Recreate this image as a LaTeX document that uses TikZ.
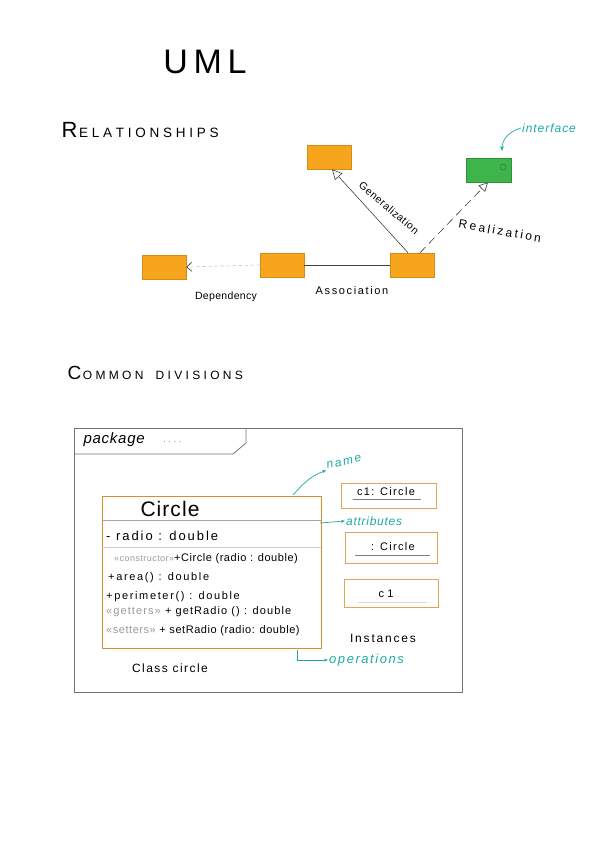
\documentclass[tikz,border=0pt]{standalone}
\usepackage{fontspec}
\setmainfont{Liberation Sans}
\usetikzlibrary{arrows.meta,positioning}
\definecolor{orbox}{HTML}{F7A51C}
\definecolor{orline}{HTML}{D88F2C}
\definecolor{grbox}{HTML}{3DB54A}
\definecolor{teal}{HTML}{1DAAA0}
\newcommand{\fs}[3]{\fontsize{#1}{#1}\selectfont\addfontfeature{LetterSpace=#2}#3}
\begin{document}
\begin{tikzpicture}[x=1pt,y=-1pt,
  obox/.style={draw=orbox!85!black,fill=orbox,line width=0.6pt,minimum width=44pt,minimum height=24pt,inner sep=0pt},
  gbox/.style={draw=grbox!80!black,fill=grbox,line width=0.6pt,minimum width=45pt,minimum height=24pt,inner sep=0pt},
  rel/.style={draw=black!75,line width=0.6pt},
  lbl/.style={inner sep=1pt},
  note/.style={text=teal,inner sep=1pt},
  noteline/.style={draw=teal,line width=0.7pt},
  inst/.style={draw=orline!80,line width=0.7pt,minimum width=95pt,inner sep=0pt},
  optext/.style={anchor=west,inner sep=0pt},
  ster/.style={text=black!40}
]
\useasboundingbox (0,0) rectangle (601,848);
% title
\node (title) at (205,62) {\fs{34}{0}{U\,M\,L}};
\node[anchor=west] (rel) at (58,130) {{\fontsize{22}{22}\selectfont R}\,{\fontsize{13.5}{13.5}\selectfont E L A T I O N S H I P S}};
% relationship boxes
\node[obox] (gen) at (329,157) {};
\node[gbox] (ifc) at (489,170) {};
\draw[grbox!70!black,line width=0.5pt] (ifc.center) ++(14,-3) circle (3pt);
\node[obox] (main) at (412,265) {};
\node[obox] (assoc) at (282,265) {};
\node[obox] (dep) at (164,267) {};
% connectors
\draw[rel,dashed,draw=black!25,-{Straight Barb[length=5pt,width=9pt,color=black!80]}] (assoc.west) -- (dep.east);
\draw[rel] (assoc.east) -- (main.west);
\draw[rel,-{Triangle[open,length=10pt,width=10pt,fill=white]}] ([xshift=-4pt]main.north) -- ([xshift=3pt]gen.south);
\draw[rel,dashed,dash pattern=on 8pt off 5pt,-{Triangle[open,length=9pt,width=9pt,fill=white]}] ([xshift=8pt]main.north) -- ([xshift=-1pt]ifc.south);
% labels
\node[lbl,rotate=-40] (lgen) at (389,208) {\fs{10.5}{5}{Generalization}};
\node[lbl,rotate=-10] (lrea) at (500,231) {\fs{12}{20}{Realization}};
\node[lbl] (ldep) at (226,297) {\fs{10.5}{3}{Dependency}};
\node[lbl] (lass) at (352,291) {\fs{11}{15}{Association}};
\node[note,anchor=west] (lifc) at (521,128) {\itshape\fs{12}{8}{interface}};
\draw[noteline,-{Stealth[length=5pt]}] (lifc.west) .. controls (508,132) and (502,140) .. (502,151);
% common divisions
\node[anchor=west] (common) at (64,373) {{\fontsize{19}{19}\selectfont C}\,{\fontsize{12}{12}\selectfont O M M O N\quad D I V I S I O N S}};
% package frame
\draw[black!55,line width=0.8pt] (74,428) rectangle (462,692);
\coordinate (t1) at (246,428);
\coordinate (t2) at (246,443);
\coordinate (t3) at (233,454);
\coordinate (t4) at (74,454);
\draw[black!55,line width=0.8pt] (t1) -- (t2) -- (t3) -- (t4);
\node[anchor=west] (pkg) at (80,440) {\itshape\fs{15}{5}{package}};
\node[anchor=west,text=black!60] (pkgdots) at (160,442) {\fs{8}{0}{. . . .}};
% class box
\draw[orline,line width=0.8pt] (102,496) rectangle (321,648);
\coordinate (d1a) at (102,520); \coordinate (d1b) at (321,520);
\coordinate (d2a) at (102,547); \coordinate (d2b) at (321,547);
\draw[black!35,line width=0.9pt] (d1a) -- (d1b);
\draw[black!20,line width=0.7pt] (d2a) -- (d2b);
\node (cname) at (170,509) {\fs{21}{5}{Circle}};
\node[optext] (attr) at (106,536) {\fs{13}{15}{- radio : double}};
\node[optext] (op1) at (114,559) {{\color{black!40}\fs{9}{5}{«constructor»}}\fs{11}{5}{+Circle (radio : double)}};
\node[optext] (op2) at (108,578) {\fs{11}{15}{+area() : double}};
\node[optext] (op3) at (106,597) {\fs{11}{15}{+perimeter() : double}};
\node[optext] (op4) at (106,612) {\fs{11}{10}{{\color{black!40}«getters»} + getRadio () : double}};
\node[optext] (op5) at (106,631) {\fs{11}{5}{{\color{black!40}«setters»} + setRadio (radio: double)}};
\node (ccap) at (170,668) {\fs{12}{12}{Class circle}};
% teal annotations
\coordinate (nstart) at (293,495);
\node[note,rotate=12] (lname) at (344,462) {\itshape\fs{12}{15}{name}};
\draw[noteline,-{Stealth[length=4pt]}] (nstart) .. controls (302,485) and (310,476) .. (lname.south west);
\coordinate (astart) at (320,523);
\node[note,anchor=west] (lattr) at (345,521) {\itshape\fs{12}{6}{attributes}};
\draw[noteline,-{Stealth[length=4pt]}] (astart) -- (lattr.west);
\coordinate (ostart) at (297,650);
\coordinate (ocorner) at (297,660);
\node[note,anchor=west] (lops) at (328,660) {\itshape\fs{13}{12}{operations}};
\draw[noteline,-{Stealth[length=4pt]}] (ostart) -- (ocorner) -- (lops.west);
% instances
\node[inst,minimum height=25pt] (i1) at (389,496) {};
\node (i1t) at (386,492) {\fs{11}{12}{c1: Circle}};
\draw[black!50,line width=0.8pt] (353,499) -- (421,499);
\node[inst,minimum height=31pt,minimum width=92pt] (i2) at (391,548) {};
\node (i2t) at (393,547) {\fs{11}{12}{: Circle}};
\draw[black!50,line width=0.8pt] (355,555) -- (430,555);
\node[inst,minimum height=28pt,minimum width=94pt] (i3) at (391,593) {};
\node (i3t) at (386,594) {\fs{11}{30}{c1}};
\draw[black!15,line width=0.8pt] (358,602) -- (427,602);
\node (linst) at (383,638) {\fs{12}{15}{Instances}};
\end{tikzpicture}
\end{document}
